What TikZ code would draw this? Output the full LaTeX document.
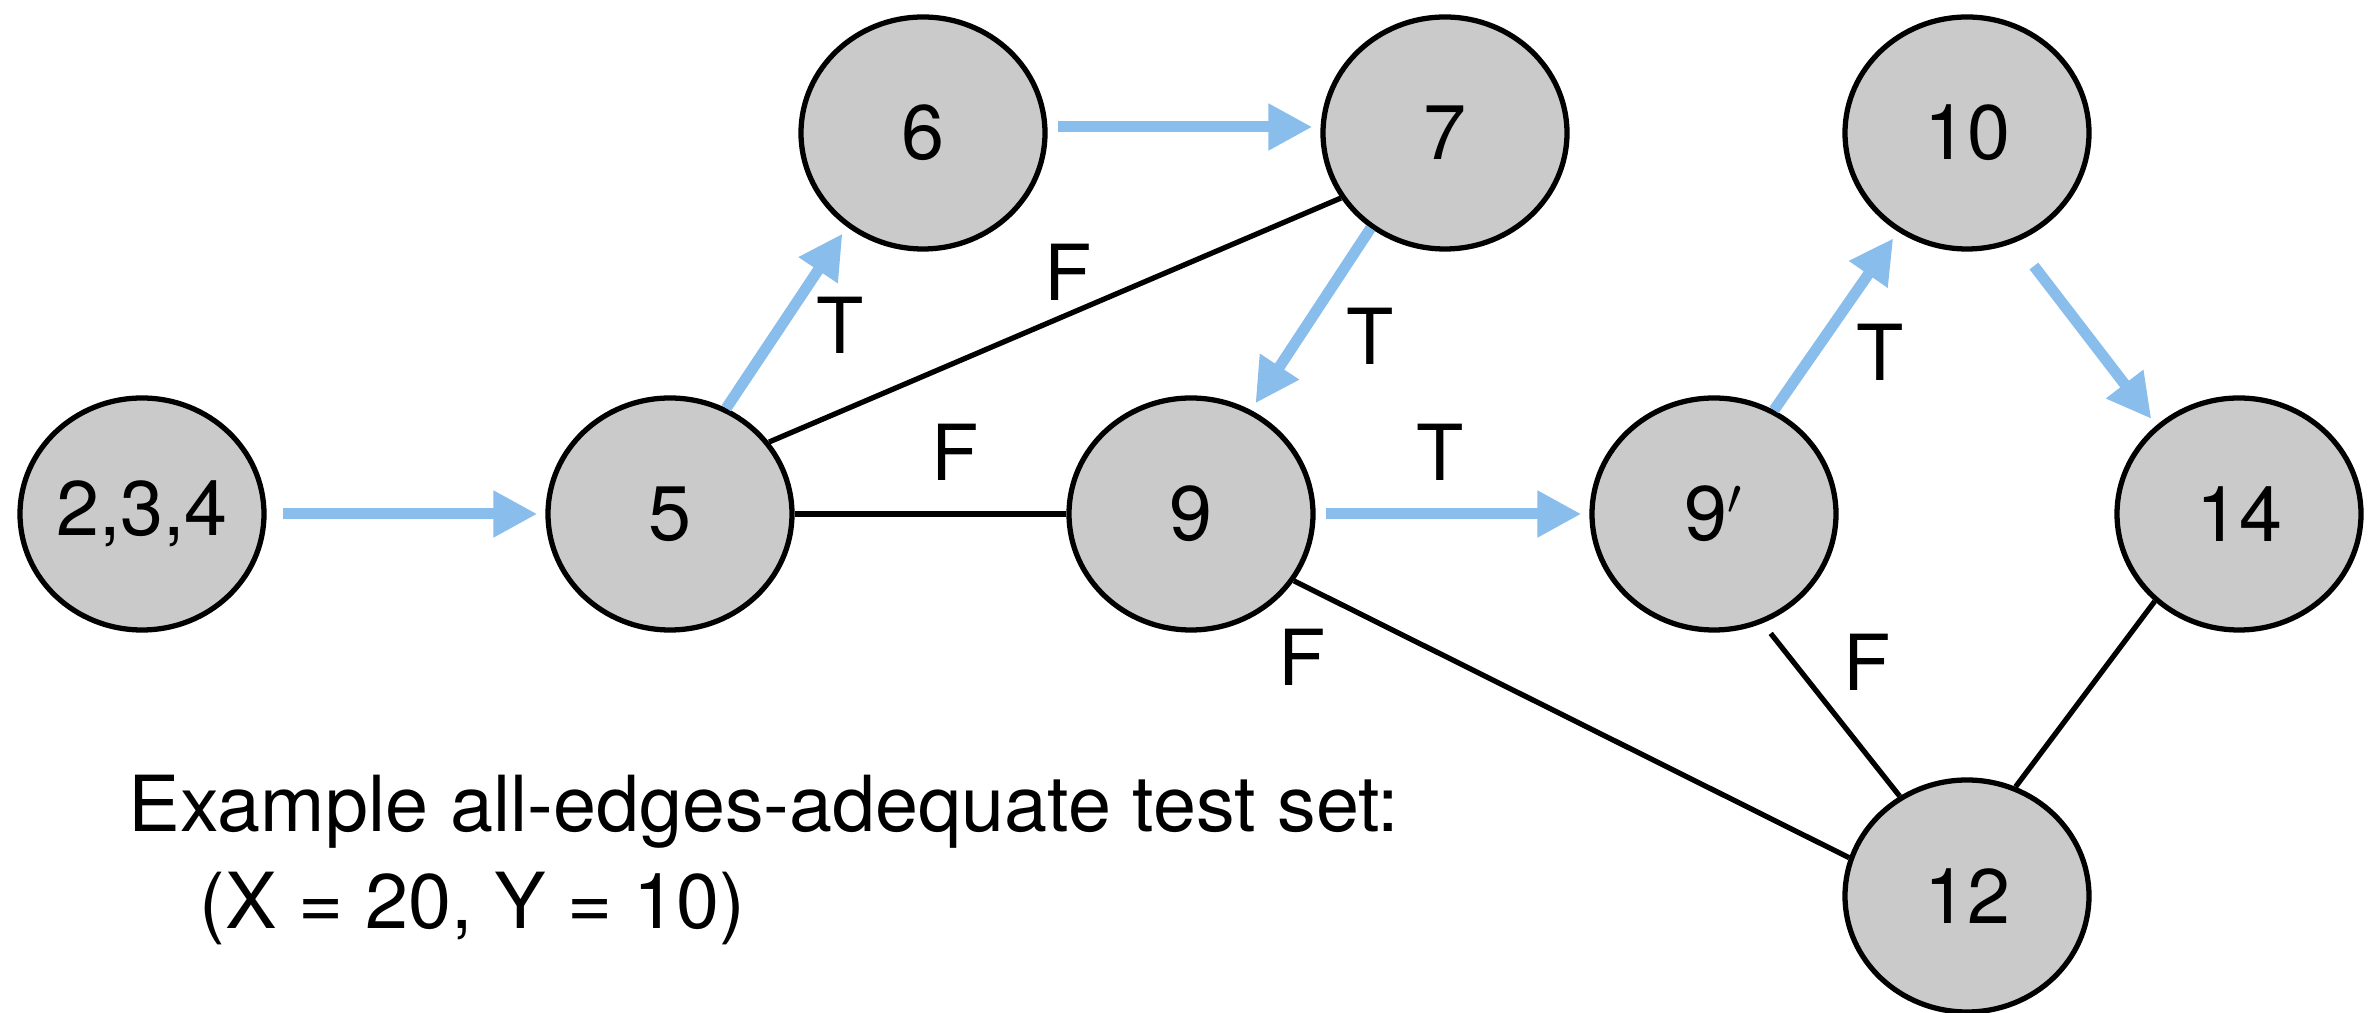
\documentclass[tikz,border=0pt]{standalone}
\usepackage{fontspec}
\setmainfont{TeX Gyre Heros}
\usetikzlibrary{shapes}
\usetikzlibrary{arrows.meta}
\usepackage{xcolor}
\definecolor{tblue}{RGB}{136,189,236}
\definecolor{nodegray}{RGB}{202,202,202}

\begin{document}
\begin{tikzpicture}[
    blk/.style = {ellipse, draw=black, fill=nodegray, line width=1.5pt,
                minimum width=2.44cm, minimum height=2.32cm,
                inner sep=0pt, font=\fontsize{22}{27}\selectfont},
    tarrow/.style = {draw=tblue, line width=0.11cm,
                -{Triangle[length=0.44cm,width=0.44cm]},
                shorten <=0.1cm, shorten >=0.08cm},
    fline/.style = {draw=black, line width=1.5pt},
    lbl/.style = {inner sep=0pt, font=\fontsize{22}{27}\selectfont}
                    ]
    \useasboundingbox (0,0) rectangle (23.72,10.13);
    \def\ytop{8.80}
    \def\ymid{4.99}
    \def\ybot{1.17}
    \node[blk] at (1.42,\ymid) (n234) {2,3,4};
    \node[blk] at (6.70,\ymid) (n5) {5};
    \node[blk] at (9.23,\ytop) (n6) {6};
    \node[blk] at (14.45,\ytop) (n7) {7};
    \node[blk] at (11.91,\ymid) (n9) {9};
    \node[blk] at (17.14,\ymid) (n9p) {9$'$};
    \node[blk] at (19.67,\ytop) (n10) {10};
    \node[blk] at (22.39,\ymid) (n14) {14};
    \node[blk] at (19.67,\ybot) (n12) {12};
    % true branches
    \draw[tarrow, shorten <=0.16cm] (n234) -- (n5);
    \draw[tarrow, shorten <=0pt] (n5.62) -- (n6.231);
    \draw[tarrow] ([yshift=0.06cm]n6.east) -- ([yshift=0.06cm]n7.west);
    \draw[tarrow, shorten <=0pt] (n7.232) -- (n9.60);
    \draw[tarrow] (n9) -- (n9p);
    \draw[tarrow, shorten <=0pt] (n9p.60) -- (n10.235);
    \draw[tarrow, shorten <=0.3cm] (n10.294) -- (n14.133);
    % false branches
    \draw[fline] (n5.36) -- (n7.212);
    \draw[fline] (n5) -- (n9);
    \draw[fline] (n9.327) -- (n12.162);
    \draw[fline, shorten <=0.13cm] (n9p.294) -- (n12.124);
    \draw[fline] (n14.226) -- (n12.66);
    \node[lbl] at (8.40,6.88) (t56) {T};
    \node[lbl] at (10.68,7.41) (f57) {F};
    \node[lbl] at (9.55,5.61) (f59) {F};
    \node[lbl] at (13.70,6.77) (t79) {T};
    \node[lbl] at (14.40,5.61) (t99) {T};
    \node[lbl] at (13.02,3.56) (f912) {F};
    \node[lbl] at (18.80,6.61) (t910) {T};
    \node[lbl] at (18.67,3.51) (f9p12) {F};
    \node[lbl, anchor=base west] at (1.28,1.81) (cap1) {Example all-edges-adequate test set:};
    \node[lbl, anchor=base west] at (1.99,0.84) (cap2) {(X = 20, Y = 10)};
\end{tikzpicture}
\end{document}
